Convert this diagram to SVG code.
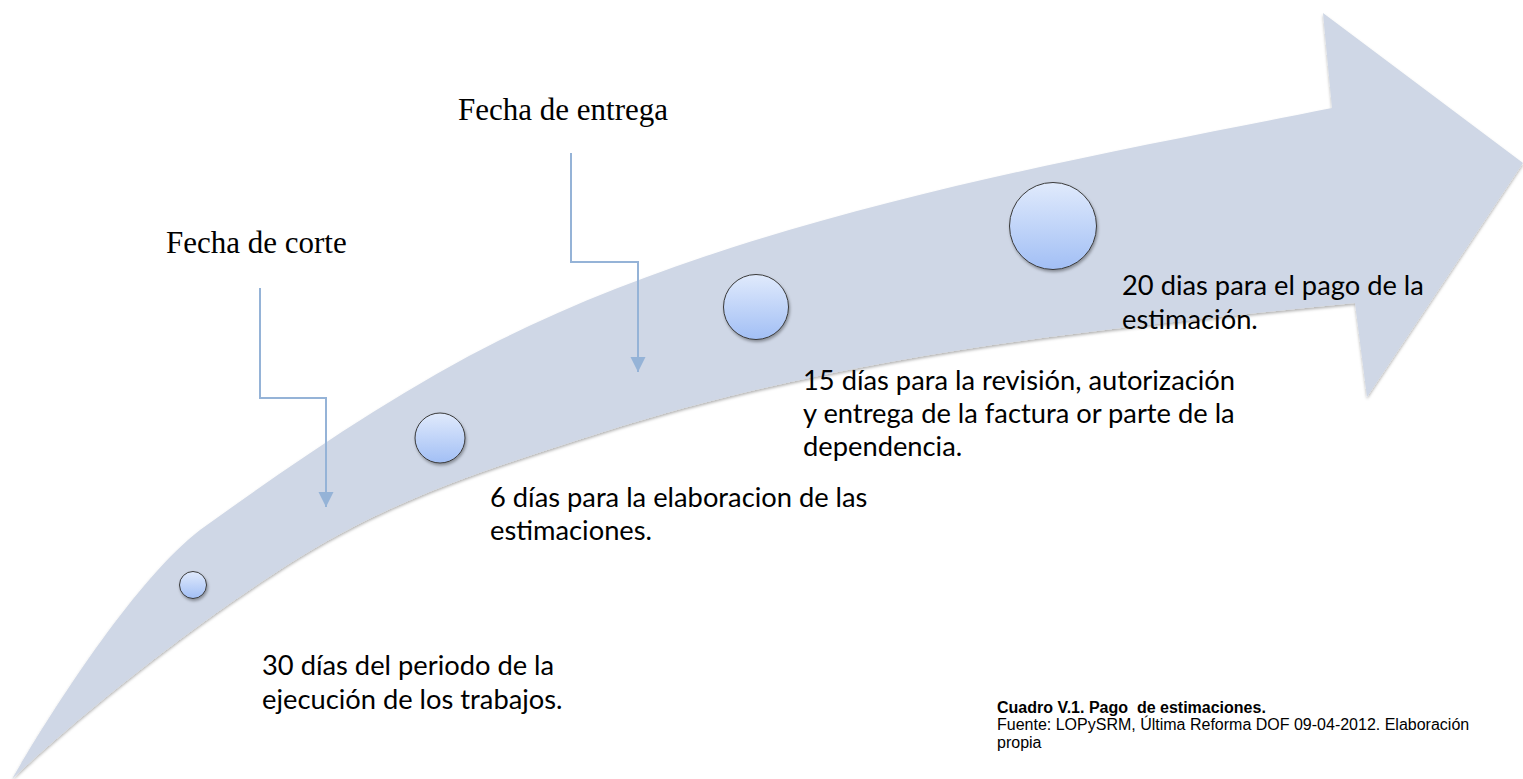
<svg xmlns="http://www.w3.org/2000/svg" width="1523" height="779" viewBox="0 0 1523 779">
  <defs>
    <linearGradient id="ball" x1="0" y1="0" x2="0" y2="1">
      <stop offset="0" stop-color="#e0eafc"/>
      <stop offset="1" stop-color="#a2bff5"/>
    </linearGradient>
    <filter id="shadow" x="-20%" y="-20%" width="140%" height="140%">
      <feDropShadow dx="1" dy="2" stdDeviation="1.5" flood-color="#000" flood-opacity="0.35"/>
    </filter>
    <filter id="ashadow" x="-5%" y="-5%" width="110%" height="110%">
      <feDropShadow dx="0" dy="2" stdDeviation="1.5" flood-color="#000" flood-opacity="0.3"/>
    </filter>
    <marker id="tip" viewBox="0 0 10 10" refX="10" refY="5" markerUnits="userSpaceOnUse" markerWidth="15" markerHeight="16" orient="auto">
      <path d="M0,0 L10,5 L0,10 Z" fill="#95b3d7"/>
    </marker>
  </defs>
  <style>
    .ball { fill: url(#ball); stroke: #3a3a3a; stroke-width: 1; filter: url(#shadow); }
    .conn { fill: none; stroke: #95b3d7; stroke-width: 2; marker-end: url(#tip); }
    .lbl { font-family: "Liberation Serif", "Times New Roman", serif; font-size: 31px; fill: #000; }
    .txt { font-family: Lato, "Liberation Sans", sans-serif; font-size: 27.3px; fill: #000; }
    .cap { font-family: "Liberation Sans", Arial, sans-serif; font-size: 16px; fill: #000; white-space: pre; }
  </style>
  <rect width="1523" height="779" fill="#fff"/>
  <g id="timeline-arrow">
    <path filter="url(#ashadow)" fill="#cfd7e6" d="M12,779 C52,710 135,580 200,530 C300,458 400,390 500,340 C750,215 1082,158 1332,108 L1323,13 L1523,163 L1367,397 L1355,303 C1105,328 850,353 600,433 C500,465 400,495 300,557 C204,617 92,704 12,779 Z"/>
  </g>
  <g id="connectors">
    <path class="conn" d="M260,288 V398 H326 V507"/>
    <path class="conn" d="M571,153 V262 H638 V372"/>
  </g>
  <g id="node-1"><circle class="ball" cx="193" cy="585" r="13.5"/></g>
  <g id="node-2"><circle class="ball" cx="440" cy="438" r="25"/></g>
  <g id="node-3"><circle class="ball" cx="756" cy="307" r="32.5"/></g>
  <g id="node-4"><circle class="ball" cx="1053" cy="226" r="43.5"/></g>
  <g id="label-corte"><text class="lbl" x="166" y="253">Fecha de corte</text></g>
  <g id="label-entrega"><text class="lbl" x="458" y="120">Fecha de entrega</text></g>
  <g id="text-30">
    <text class="txt" x="262" y="675">30 días del periodo de la</text>
    <text class="txt" x="262" y="709">ejecución de los trabajos.</text>
  </g>
  <g id="text-6">
    <text class="txt" x="490" y="507">6 días para la elaboracion de las</text>
    <text class="txt" x="490" y="540">estimaciones.</text>
  </g>
  <g id="text-15">
    <text class="txt" x="803" y="390">15 días para la revisión, autorización</text>
    <text class="txt" x="803" y="423">y entrega de la factura or parte de la</text>
    <text class="txt" x="803" y="456">dependencia.</text>
  </g>
  <g id="text-20">
    <text class="txt" x="1122" y="295">20 dias para el pago de la</text>
    <text class="txt" x="1122" y="329">estimación.</text>
  </g>
  <g id="caption">
    <text class="cap" x="997" y="713" font-weight="bold" xml:space="preserve">Cuadro V.1. Pago  de estimaciones.</text>
    <text class="cap" x="997" y="730">Fuente: LOPySRM, Última Reforma DOF 09-04-2012. Elaboración</text>
    <text class="cap" x="997" y="748">propia</text>
  </g>
</svg>
